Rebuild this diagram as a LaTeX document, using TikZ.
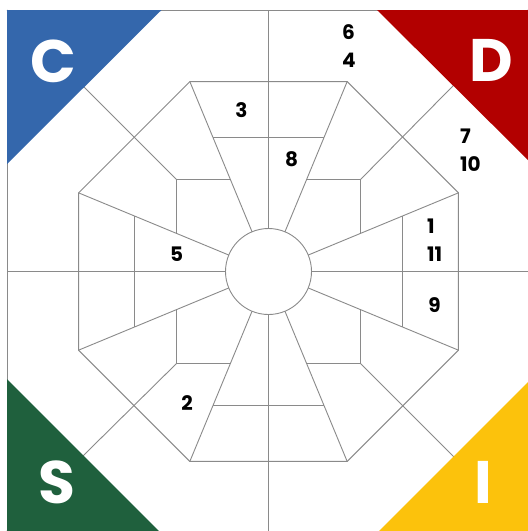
\documentclass[tikz,border=0pt]{standalone}
\usepackage{fontspec}
\setmainfont{Poppins}
\usetikzlibrary{calc}
\definecolor{gridline}{HTML}{8A8A8A}
\definecolor{discC}{HTML}{3467AC}
\definecolor{discD}{HTML}{B20000}
\definecolor{discS}{HTML}{1F603D}
\definecolor{discI}{HTML}{FCC20C}
\begin{document}
\begin{tikzpicture}[x=1pt,y=-1pt,
  grid/.style={draw=gridline,line width=0.9pt},
  num/.style={font=\bfseries\fontsize{20}{27.5}\selectfont,inner sep=0pt,align=left},
  big/.style={text=white,font=\bfseries\fontsize{60}{60}\selectfont,inner sep=0pt}]
\useasboundingbox (0,0) rectangle (528,531);
\fill[white] (0,0) rectangle (528,531);
\coordinate (O) at (268.5,271.5);
% frame
\draw[grid] (7,531) -- (7,10) -- (528,10);
% axes
\draw[grid] (268.5,10) -- (268.5,531);
\draw[grid] (7,271.5) -- (528,271.5);
% diagonals from inner corner points to the square corners
\coordinate (Q1) at (176.5,179.5);
\coordinate (Q2) at (360.5,179.5);
\coordinate (Q3) at (176.5,363.5);
\coordinate (Q4) at (360.5,363.5);
\draw[grid] (Q1) -- (7,10);
\draw[grid] (Q2) -- (528,10);
\draw[grid] (Q3) -- (7,531);
\draw[grid] (Q4) -- (528,531);
% small corner pieces
\draw[grid] (230.4,179.5) -- (Q1) -- (176.5,233.6);
\draw[grid] (306.6,179.5) -- (Q2) -- (360.5,233.6);
\draw[grid] (230.4,363.5) -- (Q3) -- (176.5,309.4);
\draw[grid] (306.6,363.5) -- (Q4) -- (360.5,309.4);
% cross lines
\draw[grid] (213,137.5) -- (324,137.5);
\draw[grid] (213,405.5) -- (324,405.5);
\draw[grid] (134.5,216) -- (134.5,327);
\draw[grid] (402.5,216) -- (402.5,327);
% octagon and spokes
\draw[grid] ($(O)+(22.5:205.6pt)$)
  \foreach \a in {67.5,112.5,157.5,202.5,247.5,292.5,337.5} { -- ($(O)+(\a:205.6pt)$) } -- cycle;
\foreach \a in {22.5,67.5,112.5,157.5,202.5,247.5,292.5,337.5}
  \draw[grid] ($(O)+(\a:43pt)$) -- ($(O)+(\a:205.6pt)$);
% centre circle
\draw[grid,fill=white] (O) circle (43pt);
% corner triangles
\fill[discC] (7,10) -- (161.5,10) -- (7,164) -- cycle;
\fill[discD] (377,10) -- (529,10) -- (529,161) -- cycle;
\fill[discS] (7,379) -- (7,532) -- (160,532) -- cycle;
\fill[discI] (529,381) -- (529,532) -- (378,532) -- cycle;
\node[big] (C) at (53,61) {C};
\node[big] (D) at (491,60) {D};
\node[big] (S) at (57,482) {S};
\node[big] (I) at (483,482) {I};
% numbers
\node[num] (n3) at (241.5,110) {3};
\node[num] (n8) at (291.5,159.5) {8};
\node[num] (n5) at (176.5,254.5) {5};
\node[num] (n9) at (434.5,305.5) {9};
\node[num] (n2) at (187,403) {2};
\node[num,anchor=west] (n64) at (342,46) {6\\4};
\node[num,anchor=west] (n710) at (460,150) {7\\10};
\node[num,anchor=west] (n111) at (427,240) {1\\11};
\end{tikzpicture}
\end{document}
